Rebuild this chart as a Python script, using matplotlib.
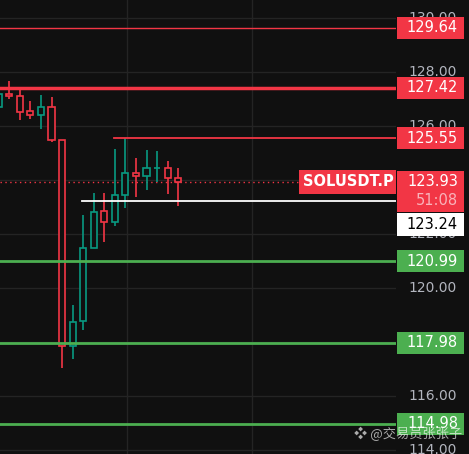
import matplotlib.pyplot as plt
import numpy as np
from matplotlib.patches import Rectangle

# candle data (oldest -> newest)
opens  = [126.70, 127.19, 127.10, 126.54, 126.40, 126.69, 125.47, 117.85, 118.77,
          121.47, 122.84, 122.43, 123.43, 124.25, 124.14, 124.43, 124.43, 124.06]
highs  = [127.25, 127.67, 127.37, 126.93, 127.15, 127.07, 125.47, 119.37, 122.70,
          123.51, 123.51, 125.15, 125.54, 124.81, 125.11, 125.07, 124.70, 124.44]
lows   = [126.60, 127.01, 126.23, 126.27, 125.90, 125.40, 117.04, 117.36, 118.46,
          121.47, 121.71, 122.31, 122.97, 123.38, 123.64, 123.94, 123.49, 123.05]
closes = [127.19, 127.10, 126.51, 126.40, 126.70, 125.47, 117.85, 118.73, 121.47,
          122.80, 122.43, 123.43, 124.25, 124.14, 124.43, 124.43, 124.06, 123.93]

red_levels = [129.64, 127.42, 125.55]
green_levels = [120.99, 117.98, 114.98]
last_price = 123.93
countdown = "51:08"
white_level = 123.24
symbol = "SOLUSDT.P"
tick_values = [130, 128, 126, 124, 122, 120, 118, 116, 114]

BG = '#101010'
UP = '#089981'
DOWN = '#F23645'
GREEN = '#4CAF50'
GRID = '#242424'

fig = plt.figure(figsize=(4.69, 4.54), dpi=100, facecolor=BG)
ax = fig.add_axes([0, 0, 396 / 469, 1], facecolor=BG)
pax = fig.add_axes([396 / 469, 0, 73 / 469, 1], facecolor=BG)

ylo, yhi = 113.852, 130.667
ax.set_ylim(ylo, yhi)
ax.set_xlim(0.123, 37.62)
pax.set_ylim(ylo, yhi)
pax.set_xlim(0, 73)
for a in (ax, pax):
    a.set_xticks([])
    a.set_yticks([])
    for s in a.spines.values():
        s.set_visible(False)

# grid
for v in tick_values:
    ax.axhline(v, color=GRID, lw=1, zorder=0)
for gx in [12.15, 23.95]:
    ax.axvline(gx, color=GRID, lw=1, zorder=0)

# candles
w = 0.58
for i, (o, h, l, c) in enumerate(zip(opens, highs, lows, closes)):
    col = UP if c >= o else DOWN
    ax.plot([i, i], [l, h], color=col, lw=1.2, zorder=3, solid_capstyle='butt')
    lo_b, hi_b = min(o, c), max(o, c)
    ax.add_patch(Rectangle((i - w / 2, lo_b), w, max(hi_b - lo_b, 0.02),
                           facecolor=BG, edgecolor=col, lw=1.2, zorder=4))

# levels
ax.axhline(red_levels[0], color=DOWN, lw=1.0, zorder=5)
ax.axhline(red_levels[1], color=DOWN, lw=2.5, zorder=5)
ax.plot([10.92, 37.62], [red_levels[2]] * 2, color=DOWN, lw=1.3, zorder=5)
ax.axhline(last_price, color=DOWN, lw=1.0, ls=(0, (1, 2.5)), zorder=2)
ax.plot([7.89, 37.62], [white_level] * 2, color='white', lw=1.3, zorder=5)
for g in green_levels:
    ax.axhline(g, color=GREEN, lw=2.0, zorder=5)

# price scale tick labels
for v in tick_values:
    pax.text(12.5, v, f"{v:.2f}", color='#B2B5BE', fontsize=10, va='center', ha='left', zorder=1)

ppx = (yhi - ylo) / 454  # price units per pixel


def tag(price, text, fc, tc='white', h=22, center=None):
    c = price if center is None else center
    pax.add_patch(Rectangle((1, c - h / 2 * ppx), 67, h * ppx, facecolor=fc,
                            edgecolor='none', zorder=5))
    pax.text(62, c, text, color=tc, fontsize=10.5, va='center', ha='right', zorder=6)


for r in red_levels:
    tag(r, f"{r:.2f}", DOWN)
for g in green_levels:
    tag(g, f"{g:.2f}", GREEN)

# last price tag with countdown
pax.add_patch(Rectangle((1, last_price - 30 * ppx), 67, 41 * ppx,
                        facecolor=DOWN, edgecolor='none', zorder=5))
pax.text(62, last_price, f"{last_price:.2f}", color='white', fontsize=10.5,
         va='center', ha='right', zorder=6)
pax.text(62, last_price - 19 * ppx, countdown, color='#F9B3BA', fontsize=10.5,
         va='center', ha='right', zorder=6)
tag(white_level, f"{white_level:.2f}", 'white', tc='black', h=23,
    center=white_level - 24 * ppx)

# symbol tag
ax.text(37.45, last_price, symbol, color='white', fontsize=10.5, fontweight='bold',
        va='center', ha='right', zorder=7,
        bbox=dict(boxstyle='square,pad=0.3', facecolor=DOWN, edgecolor='none'))

# watermark
fig.text(0.985, 1 - 434 / 454, "❖ @交易员张张子", color='white', alpha=0.65,
         fontsize=9.5, ha='right', va='center', zorder=10,
         family=['Noto Sans CJK SC', 'DejaVu Sans'])

fig.savefig('out.png', dpi=100, facecolor=BG)
